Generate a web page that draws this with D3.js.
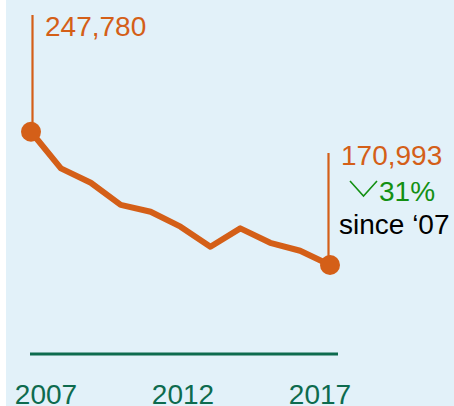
<!DOCTYPE html>
<html>
<head>
<meta charset="utf-8">
<script src="https://cdn.jsdelivr.net/npm/d3@7"></script>
<style>
  html, body { margin: 0; padding: 0; background: #fff; }
  svg { display: block; }
  text { font-family: "Liberation Sans", Arial, sans-serif; }
</style>
</head>
<body>
<svg width="454" height="406"></svg>
<script>
const years = [2007, 2008, 2009, 2010, 2011, 2012, 2013, 2014, 2015, 2016, 2017];
const values = [247780, 226700, 218400, 205600, 201700, 193100, 181500, 192100, 183800, 179200, 170993];
const tickYears = [2007, 2012, 2017];
const changeLabel = '31%';
const sinceLabel = 'since \u201807';

const orange = '#d45f18';
const darkGreen = '#0d6b4e';
const green = '#139013';

const svg = d3.select('svg');
const W = 454, H = 406;

// background panel
svg.append('rect')
    .attr('x', 6).attr('y', 0)
    .attr('width', W - 6).attr('height', H)
    .attr('fill', '#e2f1f9');

// ---- Escalas
const x = d3.scaleLinear().domain([2007, 2017]).range([31, 330]);
const y = d3.scaleLinear().domain([100000, 250000]).range([388.2, 127.9]);
// labels sit a little inside the line ends
const xLabel = d3.scaleLinear().domain([2007, 2017]).range([46, 320]);

// ---- baseline + ticks
svg.append('line')
    .attr('x1', 30).attr('x2', 338)
    .attr('y1', 354).attr('y2', 354)
    .attr('stroke', darkGreen)
    .attr('stroke-width', 3);

svg.selectAll('.tick-label')
    .data(tickYears)
    .join('text')
    .attr('class', 'tick-label')
    .attr('x', d => xLabel(d))
    .attr('y', 403.5)
    .attr('text-anchor', 'middle')
    .attr('font-size', 28)
    .attr('fill', darkGreen)
    .text(d => d);

// ---- stems for first / last
const ends = [0, values.length - 1];
const stemTop = [15, 153];
svg.selectAll('.stem')
    .data(ends)
    .join('line')
    .attr('class', 'stem')
    .attr('x1', i => x(years[i]) + (i === 0 ? 1.5 : -1.5))
    .attr('x2', i => x(years[i]) + (i === 0 ? 1.5 : -1.5))
    .attr('y1', (i, k) => stemTop[k])
    .attr('y2', i => y(values[i]))
    .attr('stroke', orange)
    .attr('stroke-width', 2.2);

// ---- line
const data = years.map((yr, i) => ({ year: yr, value: values[i] }));
svg.append('path')
    .datum(data)
    .attr('fill', 'none')
    .attr('stroke', orange)
    .attr('stroke-width', 6)
    .attr('stroke-linejoin', 'round')
    .attr('d', d3.line()
        .x(d => x(d.year))
        .y(d => y(d.value))
    );

svg.selectAll('.end-dot')
    .data(ends)
    .join('circle')
    .attr('class', 'end-dot')
    .attr('cx', i => x(years[i]))
    .attr('cy', i => y(values[i]))
    .attr('r', 10)
    .attr('fill', orange);

// ---- labels
const fmt = d3.format(',');
svg.append('text')
    .attr('x', x(years[0]) + 14)
    .attr('y', 36)
    .attr('font-size', 28)
    .attr('fill', orange)
    .text(fmt(values[0]));

const last = values.length - 1;
svg.append('text')
    .attr('x', x(years[last]) + 11)
    .attr('y', 164.5)
    .attr('font-size', 28)
    .attr('fill', orange)
    .text(fmt(values[last]));

// down chevron
const cx0 = x(years[last]) + 20;
svg.append('path')
    .attr('d', `M${cx0},181 L${cx0 + 13.5},196 L${cx0 + 27},181`)
    .attr('fill', 'none')
    .attr('stroke', green)
    .attr('stroke-width', 1.6);

svg.append('text')
    .attr('x', cx0 + 29)
    .attr('y', 200.5)
    .attr('font-size', 28)
    .attr('fill', green)
    .text(changeLabel);

svg.append('text')
    .attr('x', x(years[last]) + 9)
    .attr('y', 233.5)
    .attr('font-size', 28)
    .attr('fill', '#000')
    .text(sinceLabel);
</script>
</body>
</html>
